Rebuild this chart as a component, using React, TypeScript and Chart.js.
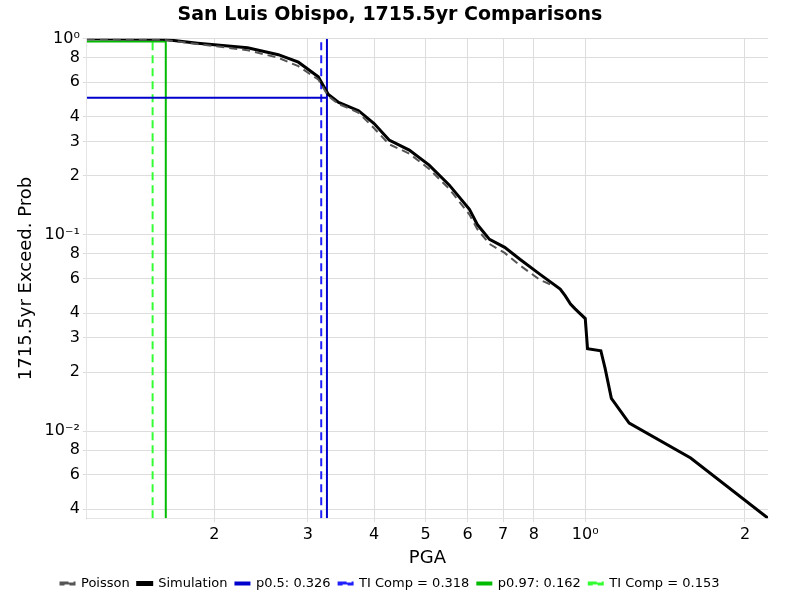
import React, { useEffect, useRef } from "react";
import Chart from "chart.js/auto";

const simX = [0.115, 0.16, 0.186, 0.231, 0.264, 0.288, 0.314, 0.328, 0.343, 0.374, 0.4, 0.427, 0.466, 0.508, 0.554, 0.605, 0.626, 0.66, 0.705, 0.753, 0.822, 0.897, 0.917, 0.938, 0.957, 1.0, 1.01, 1.07, 1.09, 1.12, 1.21, 1.58, 2.21];
const simY = [1.0, 0.995, 0.95, 0.9, 0.83, 0.76, 0.64, 0.52, 0.474, 0.43, 0.37, 0.305, 0.271, 0.227, 0.18, 0.135, 0.113, 0.095, 0.0865, 0.0752, 0.063, 0.053, 0.0489, 0.0445, 0.042, 0.0375, 0.0263, 0.0257, 0.0209, 0.0147, 0.011, 0.0073, 0.0036];
const poiX = [0.115, 0.16, 0.186, 0.231, 0.264, 0.288, 0.314, 0.328, 0.343, 0.374, 0.4, 0.427, 0.466, 0.508, 0.554, 0.605, 0.626, 0.66, 0.705, 0.753, 0.822, 0.86];
const poiY = [0.995, 0.99, 0.94, 0.875, 0.8, 0.725, 0.62, 0.51, 0.465, 0.42, 0.35, 0.29, 0.26, 0.217, 0.172, 0.127, 0.107, 0.09, 0.081, 0.07, 0.059, 0.056];

const p50 = 0.326;
const ti50 = 0.318;
const p97 = 0.162;
const ti97 = 0.153;
const yMin = 0.0036;
const xTicks = [0.2, 0.3, 0.4, 0.5, 0.6, 0.7, 0.8, 1, 2];
const yTicks = [0.004, 0.006, 0.008, 0.01, 0.02, 0.03, 0.04, 0.06, 0.08, 0.1, 0.2, 0.3, 0.4, 0.6, 0.8, 1];

const pow = (v: number) => {
  if (Math.abs(v - 1) < 1e-9) return "10⁰";
  if (Math.abs(v - 0.1) < 1e-9) return "10⁻¹";
  if (Math.abs(v - 0.01) < 1e-9) return "10⁻²";
  return String(Math.round(v / Math.pow(10, Math.floor(Math.log10(v) + 1e-9))));
};

const pts = (xs: number[], ys: number[]) => xs.map((x, i) => ({ x, y: ys[i] }));

export default function App() {
  const ref = useRef<HTMLCanvasElement | null>(null);
  useEffect(() => {
    if (!ref.current) return;
    const chart = new Chart(ref.current, {
      type: "scatter",
      data: {
        datasets: [
          { label: "Poisson", data: pts(poiX, poiY), borderColor: "#555", backgroundColor: "#555", borderDash: [8, 5], borderWidth: 2 },
          { label: "Simulation", data: pts(simX, simY), borderColor: "#000", backgroundColor: "#000", borderWidth: 3 },
          { label: "p0.5: 0.326", data: [{ x: 0.115, y: 0.5 }, { x: p50, y: 0.5 }, { x: p50, y: yMin }, { x: p50, y: 1 }], borderColor: "#0000cc", backgroundColor: "#0000cc", borderWidth: 2 },
          { label: "TI Comp = 0.318", data: [{ x: ti50, y: yMin }, { x: ti50, y: 1 }], borderColor: "#2020ff", backgroundColor: "#2020ff", borderDash: [8, 5], borderWidth: 2 },
          { label: "p0.97: 0.162", data: [{ x: 0.115, y: 0.97 }, { x: p97, y: 0.97 }, { x: p97, y: yMin }, { x: p97, y: 1 }], borderColor: "#00bb00", backgroundColor: "#00bb00", borderWidth: 2 },
          { label: "TI Comp = 0.153", data: [{ x: ti97, y: yMin }, { x: ti97, y: 1 }], borderColor: "#33ff33", backgroundColor: "#33ff33", borderDash: [8, 5], borderWidth: 2 },
        ].map((d) => ({ ...d, showLine: true, pointRadius: 0, tension: 0 })),
      },
      options: {
        animation: false,
        responsive: false,
        layout: { padding: { right: 32, left: 12, top: 2 } },
        plugins: {
          title: { display: true, text: "San Luis Obispo, 1715.5yr Comparisons", color: "#000", font: { family: "DejaVu Sans", size: 19, weight: "bold" }, padding: { top: 2, bottom: 12 } },
          legend: {
            position: "bottom",
            labels: { color: "#000", font: { family: "DejaVu Sans", size: 13 }, boxWidth: 14, boxHeight: 2, padding: 8 },
          },
          tooltip: { enabled: false },
        },
        scales: {
          x: {
            type: "logarithmic", min: 0.115, max: 2.21,
            afterBuildTicks: (s: any) => { s.ticks = xTicks.map((v) => ({ value: v })); },
            ticks: { callback: (v: any) => pow(Number(v)), color: "#000", font: { family: "DejaVu Sans", size: 16 }, maxRotation: 0, autoSkip: false },
            grid: { color: "#ddd", tickLength: 4 },
            title: { display: true, text: "PGA", color: "#000", font: { family: "DejaVu Sans", size: 18 }, padding: 0 },
          },
          y: {
            type: "logarithmic", min: yMin, max: 1,
            afterBuildTicks: (s: any) => { s.ticks = yTicks.map((v) => ({ value: v })); },
            ticks: { callback: (v: any) => pow(Number(v)), color: "#000", font: { family: "DejaVu Sans", size: 16 }, autoSkip: false },
            grid: { color: "#ddd", tickLength: 4 },
            title: { display: true, text: "1715.5yr Exceed. Prob", color: "#000", font: { family: "DejaVu Sans", size: 18 } },
          },
        },
      } as any,
    });
    return () => chart.destroy();
  }, []);
  return (
    <div style={{ position: "absolute", left: 0, top: 0, width: 800, height: 600, background: "#fff" }}>
      <canvas ref={ref} width={800} height={600} />
    </div>
  );
}
